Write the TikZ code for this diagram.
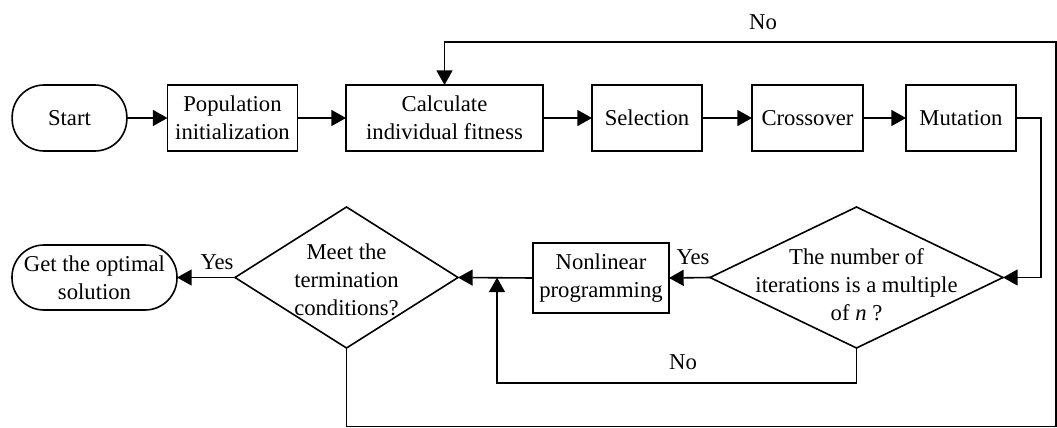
\documentclass[tikz,border=0pt]{standalone}
\usepackage{fontspec}
\setmainfont{Liberation Serif}
\usetikzlibrary{shapes.geometric,arrows.meta}
\begin{document}
\begin{tikzpicture}[x=0.75pt,y=-0.75pt,
  font=\fontsize{17}{21}\selectfont,
  every node/.style={inner sep=0pt},
  ln/.style={line width=1.2pt},
  arr/.style={ln,-{Triangle[length=11pt,width=12pt]}},
  procbox/.style={draw,ln,rectangle,align=center,outer sep=0pt},
  term/.style={draw,ln,rectangle,rounded corners=24pt,align=center,outer sep=0pt},
  decis/.style={draw,ln,diamond,outer sep=0pt},
  lbl/.style={align=center}]
\useasboundingbox (0,0) rectangle (1057,428);
% nodes
\node[term,minimum width=86pt,minimum height=49.5pt] (start) at (69.5,118) {Start};
\node[procbox,minimum width=97.5pt,minimum height=49.5pt] (pop) at (232.5,118) {Population\\initialization};
\node[procbox,minimum width=147.75pt,minimum height=49.5pt] (calc) at (444.5,118) {Calculate\\individual fitness};
\node[procbox,minimum width=82.5pt,minimum height=49.5pt] (sel) at (647,118) {Selection};
\node[procbox,minimum width=83.25pt,minimum height=49.5pt] (cross) at (807.5,118) {Crossover};
\node[procbox,minimum width=82.5pt,minimum height=49.5pt] (mut) at (961,118) {Mutation};
\node[decis,minimum width=219.75pt,minimum height=105.75pt] (d1) at (856.5,277.5) {};
\node[lbl] (d1t) at (856.5,285) {The number of\\iterations is a multiple\\of \textit{n} ?};
\node[procbox,minimum width=102pt,minimum height=52.5pt] (nl) at (601,278) {Nonlinear\\programming};
\node[decis,minimum width=167.25pt,minimum height=105.75pt] (d2) at (346.5,277.5) {};
\node[lbl] (d2t) at (346.5,280) {Meet the\\termination\\conditions?};
\node[term,minimum width=123.75pt,minimum height=48.75pt] (get) at (94.5,277.5) {Get the optimal\\solution};
% coordinates
\coordinate (r1) at (1041,277.5);
\coordinate (j) at (497,277.5);
\coordinate (c2) at (497,383);
\coordinate (b1) at (1056,426.5);
\coordinate (t1) at (1056,42);
% labels
\node[lbl] (no1) at (763,22) {No};
\node[lbl] (yes1) at (693,257) {Yes};
\node[lbl] (no2) at (683,362) {No};
\node[lbl] (yes2) at (217,262) {Yes};
% connectors
\draw[arr] (start) -- (pop);
\draw[arr] (pop) -- (calc);
\draw[arr] (calc) -- (sel);
\draw[arr] (sel) -- (cross);
\draw[arr] (cross) -- (mut);
\draw[arr] (mut.east) -| (r1) -- (d1.east);
\draw[arr] (d1.west) -- (nl.east);
\draw[arr] (nl.west) -- (d2.east);
\draw[arr] (d1.south) |- (c2) -- (j);
\draw[arr] (d2.west) -- (get.east);
\draw[arr] (d2.south) |- (b1) -- (t1) -| (calc.north);
\end{tikzpicture}
\end{document}
